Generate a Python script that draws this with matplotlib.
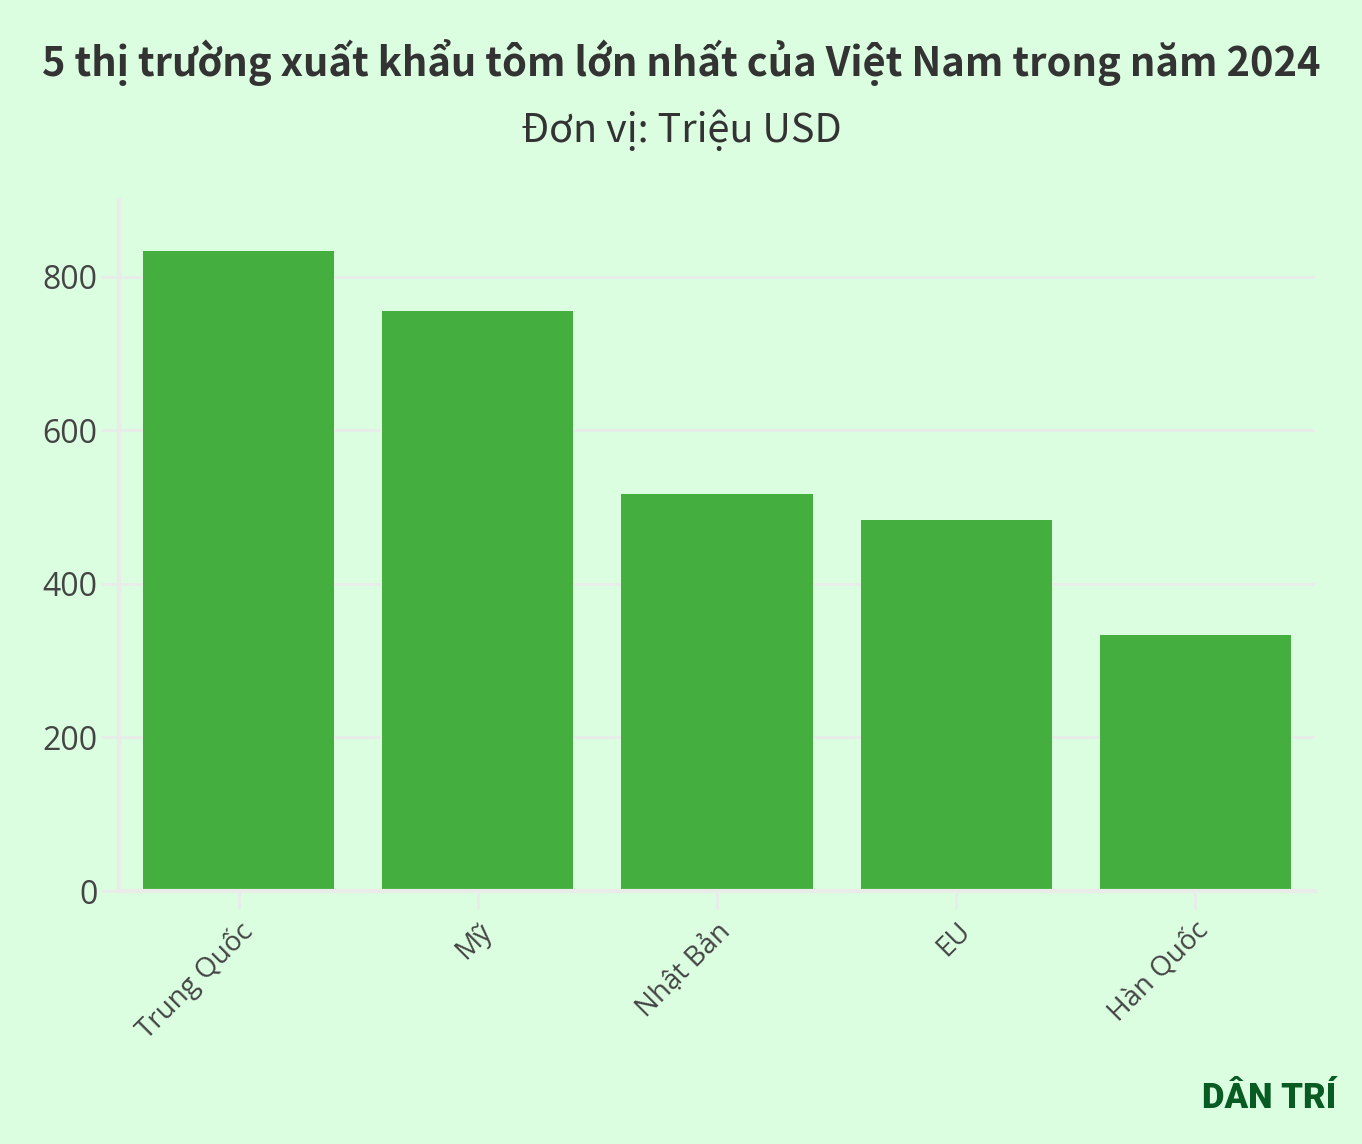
import matplotlib.pyplot as plt
import numpy as np

markets = ['Trung Quốc', 'Mỹ', 'Nhật Bản', 'EU', 'Hàn Quốc']
values = [834, 756, 517, 483, 334]
yticks = [0, 200, 400, 600, 800]

bg = '#dbfde0'
bar_color = '#44ae3f'
grid_color = '#e9ece9'
text_color = '#444444'

plt.rcParams['font.family'] = ['Open Sans', 'Noto Sans', 'DejaVu Sans']

fig = plt.figure(figsize=(13.62, 11.44), dpi=100, facecolor=bg)
ax = fig.add_axes([119 / 1362, 1 - 891 / 1144, (1315 - 119) / 1362, (891 - 200) / 1144])
ax.set_facecolor(bg)

x = np.arange(len(markets))
ax.bar(x, values, width=0.8, color=bar_color, zorder=2)

ax.set_xlim(-0.5, len(markets) - 0.5)
ax.set_ylim(0, 900)
ax.set_yticks(yticks)
ax.set_yticklabels([str(v) for v in yticks])
ax.set_xticks(x)
ax.set_xticklabels(markets, rotation=45, ha='right', va='top', rotation_mode='anchor')

ax.grid(axis='y', color=grid_color, linewidth=2, zorder=1)
ax.set_axisbelow(True)
for s in ['top', 'right']:
    ax.spines[s].set_visible(False)
for s in ['left', 'bottom']:
    ax.spines[s].set_color(grid_color)
    ax.spines[s].set_linewidth(3)
ax.tick_params(axis='x', colors=grid_color, length=13, width=2,
               labelcolor=text_color, labelsize=20, pad=6)
ax.tick_params(axis='y', colors=grid_color, length=13, width=2,
               labelcolor=text_color, labelsize=23, pad=2.5)

title_fam = ['Noto Sans CJK SC', 'Noto Sans', 'DejaVu Sans']
fig.text(0.5, 1 - 62 / 1144, '5 thị trường xuất khẩu tôm lớn nhất của Việt Nam trong năm 2024',
         ha='center', va='center', fontsize=28.7, fontweight='bold', color='#333333',
         family=title_fam)
fig.text(0.5, 1 - 130 / 1144, 'Đơn vị: Triệu USD', ha='center', va='center',
         fontsize=28.5, color='#333333', family=title_fam)

fig.text(1336 / 1362, 1 - 1098 / 1144, 'DÂN TRÍ', ha='right', va='center',
         fontsize=25, fontweight='black', color='#075b23',
         family=['Roboto', 'DejaVu Sans'])

fig.savefig('out.png', dpi=100, facecolor=bg)
